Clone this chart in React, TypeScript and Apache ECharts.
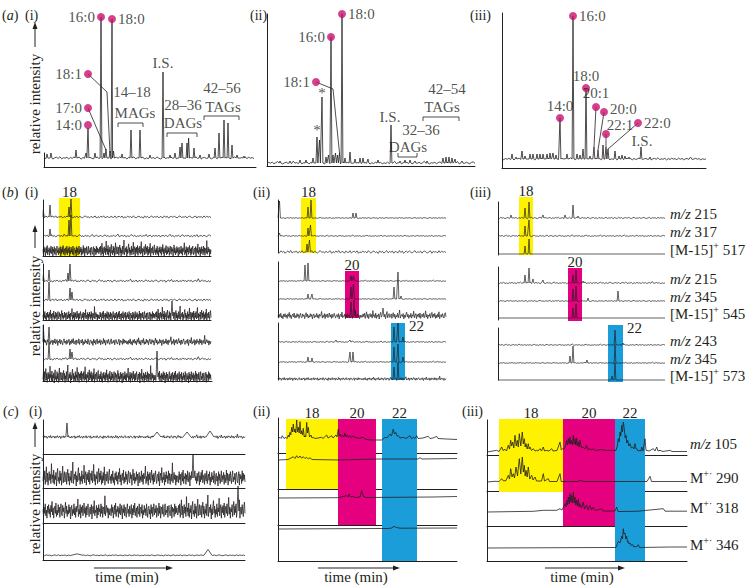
import React, { useEffect, useRef } from "react";
import * as echarts from "echarts";

const INK = "#231f20";
const FONT = '"Liberation Serif", "Times New Roman", serif';
const DOT = "#c8126e";
const YELLOW = "#fff200";
const PINK = "#e4007f";
const CYAN = "#1b9dd9";

type Peak = [number, number, number?];
type Pt = [number, number];

// ---------------- hand-read baseline noise (relative units) ----------------
const NOISE_1 = [3,-6,8,-2,5,-9,1,7,-4,10,-7,2,-1,6,-8,4,-3,9,-5,0,7,-10,3,-2,8,-6,5,-1,-8,4,9,-3,2,-7,6,-4,1,8,-9,3,-5,7,-2,10,-6,0,4,-8,6,-1,-4,9,-7,2,5,-3,8,-9,1,-5,7,-2,3,-6,9,-1,-8,4,6,-4,2,-10,8,-3,5,-7,1,9,-5,3,-2,7,-8,4,0,-6,10,-3,6,-9,2,5,-4,8,-1,-7,3,9,-5,1,-2,6,-8,4,7,-3,-6,2,8,-9,5,-1,3,-7,9,-4,6,-2,4,-5];
const NOISE_2 = [-4,7,-2,9,-8,3,14,-5,6,-9,2,8,-3,5,-7,18,-1,4,-6,10,-8,3,-2,7,-10,5,12,-4,1,-7,9,-3,6,-9,4,15,-6,2,8,-5,-1,7,-8,3,11,-4,6,-9,2,-3,9,-6,4,20,-7,1,5,-2,8,-10,3,-5,7,13,-3,6,-8,2,-4,9,-7,4,-1,16,-6,3,8,-9,5,-2,7,-5,10,-8,1,6,-3,9,-6,2,17,-4,5,-9,3,-1,8,-7,4,12,-5,6,-2,9,-8,3,-6,7,-3,14,-9,2,5,-4,8,-1,-7,6,11,-3];
const NOISE_3 = [2,-7,5,-3,9,-6,1,-9,6,-2,8,-4,3,-8,7,-1,12,-5,4,-9,2,6,-3,10,-7,1,-5,8,-2,5,-8,3,9,-4,-6,7,-1,4,-9,2,11,-3,6,-7,1,-4,8,-2,5,-10,3,7,-6,2,-3,9,-5,4,-8,6,-1,3,15,-7,2,-4,8,-9,5,-2,7,-6,1,10,-3,4,-8,6,-5,2,9,-1,-7,3,5,-4,8,-10,2,6,-3,13,-6,1,-2,7,-9,4,-5,8,-1,3,-7,9,-3,6,-8,2,5,-4,19,-6,1,7,-2,4,-9,3,-5,2];
const NOISE_SETS = [
  NOISE_1, NOISE_2, NOISE_3,
  [...NOISE_1, ...NOISE_3], [...NOISE_2, ...NOISE_1], [...NOISE_3, ...NOISE_2],
  [...NOISE_1, ...NOISE_2, ...NOISE_3], [...NOISE_3, ...NOISE_1, ...NOISE_2], [...NOISE_2, ...NOISE_3, ...NOISE_1],
];

// ---------------- (a) GC-MS total ion chromatograms: [rt, intensity] ----------------
const A1_PEAKS: Peak[] = [[3,4],[7,5],[32,8],[42,5],[44,30],[51,5],[57,141],[60,5],[62,9],[66,7],[68,139],[69.5,7],[78,4],[87,28],[96,28],[106,3],[119,86],[126,3],[131,5],[136,11],[138,15],[143,15],[144.6,20],[150,10],[156,3],[165,4],[171,10],[175,25],[180,38],[184,35],[188,13],[193,3],[200,2]];
const A1_DOTS: [string, number, number, string][] = [["16:0",57,141,"left"],["18:0",68,139,"right"],["18:1",44,84,"left"],["17:0",44,50,"left"],["14:0",44,33,"left"]];
const A1_NOTES: [string, number, number][] = [["14–18",88,66],["MAGs",91,45],["I.S.",119,95],["28–36",139,53],["DAGs",139,35],["42–56",178,70],["TAGs",179,51]];
const A1_LINKS: Pt[][] = [[[44,84],[63,66],[66,5]],[[44,50],[62,8]],[[74,31],[74,35],[99,35],[99,31]],[[123,21],[123,25],[153,25],[153,21]],[[160,38],[160,42],[195,42],[195,38]]];

const A2_PEAKS: Peak[] = [[13,2],[23,2],[33,3],[39,3],[46,5],[50,26],[52.5,23],[55,66],[59,6],[61.5,8],[64,126],[66,8],[68.5,10],[70.5,8],[72.5,10],[75,149],[78,5],[83,11],[88,4],[93,5],[96,5],[101,4],[111,3],[124,38],[133,2],[138,3],[143,3],[148,2],[160,2],[176,5],[179,6],[182,6],[185,5],[188,4],[195,2]];
const A2_DOTS: [string, number, number, string][] = [["16:0",64,126,"left"],["18:0",75,149,"right"],["18:1",49,81,"left"]];
const A2_NOTES: [string, number, number][] = [["*",50,33],["*",55,70],["I.S.",123,46],["32–36",154,33],["DAGs",141,16],["42–54",180,74],["TAGs",175,56]];
const A2_LINKS: Pt[][] = [[[49,81],[66,74],[72.5,10]],[[131,10],[131,6],[150,6],[150,10]],[[156,42],[156,46],[192,46],[192,42]]];

const A3_PEAKS: Peak[] = [[10,5],[14,2],[20,8],[23,3],[28,5],[31,5],[35,5],[38,5],[41,5],[45,5],[48,6],[51,6],[54,4],[58,41],[65,5],[71,143],[75,5],[78,4],[81,10],[84,71],[88,3],[92,12],[96,9],[101,14],[104,12],[106,10],[113,8],[117,3],[120,4],[123,3],[127,2],[139,12],[148,2]];
const A3_DOTS: [string, number, number, string][] = [["14:0",58,41,"top"],["16:0",71,143,"right"],["18:0",84,71,"top"],["20:1",94,52,"topup"],["20:0",102,47,"rightup"],["22:1",104,25,"topright"],["22:0",136,36,"right"]];
const A3_NOTES: [string, number, number][] = [["I.S.",140,18]];
const A3_LINKS: Pt[][] = [[[94,52],[92,12]],[[102,47],[96,9]],[[104,25],[104,12]],[[136,36],[106,10]]];

// ---------------- (b) selected ion chromatograms: peaks [rt, intensity] ----------------
const B1_PEAKS: Peak[][] = [
  [[0.3,7],[7,12],[26,10],[28,18]],
  [[7,7],[26,16],[28,21]],
  [],
  [[0.3,6],[6,11],[25,8],[27,17]],
  [[6,18],[27,12],[29,8]],
  [[129,15]],
  [[0.3,17],[6,15]],
  [[6,17],[27,10],[29,7]],
  [[114,26]],
];
const B2_PEAKS: Peak[][] = [
  [[1.5,17],[30,11],[33,18],[75,5],[78,5]],
  [[1.5,3],[30,8],[32.5,11]],
  [[29,8],[31.5,12]],
  [[27,16],[30,18],[73,5],[75.5,5]],
  [[30,5],[34,5],[73,12],[75.5,15],[116,12],[120,27],[123,3]],
  [[73,14],[76,16],[105,8]],
  [[58,2],[72,2],[116,15],[120,19],[125,5]],
  [[30,5],[34,4],[72,10],[75,10],[116,15],[120,18],[125,5]],
  [[116,12],[120,17]],
];
const B3_PEAKS: Peak[][] = [
  [[13,3],[27,10],[31,16],[45,3],[67,3],[75,13],[80,2]],
  [[27,10],[31,16]],
  [[27,8],[31,15]],
  [[27,8],[31,15],[35,4],[45,3],[75,8],[78,13],[85,2]],
  [[75,12],[78,15],[90,3],[120,10]],
  [[75,10],[78,14]],
  [[117,15],[125,2]],
  [[72,7],[75,17],[89,3],[117,18]],
  [[114,4],[117,17]],
];
const B3_CHANNELS = ["{it|m/z} 215","{it|m/z} 317","[M-15]{sup|+} 517","{it|m/z} 215","{it|m/z} 345","[M-15]{sup|+} 545","{it|m/z} 243","{it|m/z} 345","[M-15]{sup|+} 573"];
const B1_WINDOWS: [number, number, string][] = [[16,37,"18"]];
const B2_WINDOWS: [number, number, string][] = [[23,38,"18"],[67,81,"20"],[113,127,"22"]];
const B3_WINDOWS: [number, number, string][] = [[21,35,"18"],[70,84,"20"],[110,125,"22"]];

// ---------------- (c) chromatograms ----------------
const C1_PEAKS: Peak[][] = [
  [[24,14],[114,5,4],[144,5,4],[167,6,4]],
  [[150,24]],
  [[195,25]],
  [[34,1.5,6],[165,6,4]],
];
const C2_TRACES: Pt[][] = [
  [[0,1],[2,2.7],[3.2,1.5],[4.3,4.3],[6,1.5],[8,2.7],[9,1.5],[10.3,5],[11.2,3],[12,7.7],[12.8,5],[13.7,12.7],[14.5,8],[15.3,16],[16.2,8],[17,11],[17.8,7],[18.7,20],[19.5,8],[20.3,12.7],[21.2,7],[22,18.3],[22.9,6],[23.7,9.3],[24.5,5],[25.3,11.7],[26.2,3],[27,4.3],[27.8,3],[28.7,17.7],[29.5,7],[30.3,12.7],[31.5,3],[33,5],[34,2],[35.3,2.7],[37,1.5],[40,2],[43.7,2.7],[45,1.5],[48.7,5],[50,2],[53.7,4.3],[55,2],[58,5],[59,3],[60.3,11],[61.2,4],[62,6],[63.3,3],[64.7,5],[65.8,3],[67,6.7],[68.2,3],[69.3,5],[70.6,2.5],[72,4.3],[73.5,2.5],[75.3,4.3],[77,2],[78.7,2.7],[80,1.5],[85.3,2.7],[87,1],[92,0],[103.7,0],[107,2.7],[109,2],[112,6],[113.5,4],[115.3,11],[116.5,6],[117.7,7.7],[119,4],[120.3,4.3],[122,2],[125.3,2.7],[128,1.5],[132,4.3],[133.5,1.5],[135.3,2.7],[137,1.5],[138.7,4.3],[140,1.5],[145,2],[150.3,3.7],[152,1.5],[155,2],[158.7,3.7],[160,1.5],[168.7,1],[179,0.5]],
  [[0,0],[10,0.5],[13,2],[15.3,3.3],[17,1.5],[18.7,4.3],[20.3,2],[22,4],[23.7,1.8],[25.3,3.3],[27,1.5],[28.7,2.7],[30.3,1],[32,2.3],[34,0.5],[60,0],[100,1],[140,1],[142,2.3],[144,1],[179,1.5]],
  [[0,0],[60,0.3],[68.7,2.3],[70,1],[71,4],[72.5,1],[75.3,1.7],[77,0.5],[82,1],[83.7,7.3],[85.3,1.7],[88,0.5],[155,1],[179,1.5]],
  [[0,0],[100,0.5],[110,0.5],[113.7,1],[116,2.7],[118.7,1.5],[122,0.8],[179,1]],
];
const C3_TRACES: Pt[][] = [
  [[0,0],[9.7,1.7],[12,0.5],[14.7,5],[16,1.5],[18,2.7],[19.5,1],[21.3,6.7],[22.5,3],[23.7,11.7],[24.7,6],[25.7,10],[26.8,4],[28,16.7],[29.2,6],[30.3,11.7],[31.3,5],[32.3,18.3],[33.8,6],[35.3,20],[36.3,8],[37.3,13.3],[38.2,5],[39,8.3],[40.2,3],[41.3,8.3],[42.2,3],[43,5],[44.5,1.5],[46.3,3.3],[48,1],[49.7,1.7],[51,1],[53,3.3],[54.5,1],[56.3,5],[57.5,1],[59,1.7],[62,1],[64.7,3.3],[66,1],[70,1.5],[73,10],[74.3,2],[75.7,3.3],[77,3],[78.5,6],[79.7,11.7],[80.5,7],[81.3,13.3],[82.2,8],[83,15],[83.8,8],[84.7,11.7],[85.5,7],[86.3,16.7],[87.2,8],[88,13.3],[88.8,7],[89.7,14],[90.5,6],[91.3,10],[92.2,5],[93,11.7],[94.5,4],[96.3,5],[98,3],[99.7,6.7],[101,2],[103,3.3],[105,2],[106.3,3.3],[108,1.5],[114.7,2.3],[120,1.5],[129,1.7],[130.3,6],[131.3,13.3],[132.2,10],[133,20],[133.8,16],[134.7,26.7],[135.5,20],[136.3,30],[137.3,23.3],[138.2,14],[139,16.7],[139.8,9],[140.7,11.7],[141.8,6],[143,8.3],[144.3,4],[145.7,5],[146.8,3],[148,8.3],[149,3],[149.7,3.3],[151,1],[153,1.7],[154,1],[154.7,5],[156,1],[158,13.3],[159,1.7],[162,1],[166.3,3.3],[168,1],[169.7,5],[171,1],[173,1.7],[176,0.5],[183,1.7],[185,0.5],[200,0.5]],
  [[0,0],[8,0.7],[12,0.5],[14.7,3.3],[16.5,1],[19,1.5],[21.3,6.7],[22.5,3],[23.7,13.3],[25,5],[26.3,8.3],[27.5,4],[29,15],[30.5,6],[32.3,23.3],[33.8,8],[35.3,25],[36.3,10],[37.3,16.7],[38.2,6],[39,11.7],[40.2,5],[41.3,15],[42.8,3],[44.7,6.7],[46,2],[48,5],[49.5,1],[52,1],[54.5,1],[56.3,8.3],[57.5,1],[61.3,3.3],[62.5,0.5],[70,0.5],[73,8.3],[74.2,0.5],[90,0.5],[94.7,1.7],[96,0.5],[160,0.5],[163,5.7],[164.5,0.5],[200,0.5]],
  [[0,0],[46.3,0.7],[56.3,1.7],[69.7,1.7],[73,3.3],[75,2],[78,8.3],[79,5],[79.7,11.7],[80.5,7],[81.3,15],[82.2,8],[83,18.3],[83.8,10],[84.7,16.7],[85.5,9],[86.3,20],[87.2,9],[88,15],[88.8,7],[89.7,11.7],[90.5,6],[91.3,13.3],[92.2,5],[93,8.3],[94.5,4],[96.3,10],[97.5,3],[99.7,6.7],[101,2],[103,6.7],[104.5,2],[106.3,5],[108,1.5],[114.7,3.3],[116,1],[128,1],[129.7,5],[131,0.5],[149.7,0.7],[176.3,3.3],[178,0.8],[200,0.8]],
  [[0,0],[120,0.5],[129,0.5],[131.3,6.7],[133,5],[134.7,11.7],[135.5,9],[136.3,19.3],[137,14],[138,15],[138.8,9],[139.7,11.7],[140.5,6],[141.3,6.7],[142,4],[143,5],[144,2.5],[145.7,3.3],[146.8,1],[148,1.7],[149.5,1],[151.3,3.3],[152.5,0.5],[183,1],[200,1]],
];
const C3_CHANNELS = ["{it|m/z} 105","M{sup|+·} 290","M{sup|+·} 318","M{sup|+·} 346"];
const C2_WINDOWS: [number, number, string][] = [[8,60,"18"],[60,98,"20"],[104,139,"22"]];
const C3_WINDOWS: [number, number, string][] = [[12,76,"18"],[76,128,"20"],[128,158,"22"]];

function buildPeaks(width: number, peaks: Peak[], noise?: number[], amp = 0): Pt[] {
  const half = (p: Peak) => (p[2] ?? 0.9);
  const pts: Pt[] = [];
  if (noise && amp > 0) {
    const n = noise.length;
    for (let i = 0; i < n; i++) {
      const x = (i * width) / (n - 1);
      if (peaks.some((p) => Math.abs(x - p[0]) <= half(p))) continue;
      pts.push([x, noise[i] * amp]);
    }
  } else {
    pts.push([0, 0], [width, 0]);
  }
  for (const p of peaks) {
    const w = half(p);
    pts.push([Math.max(0, p[0] - w), 0], [p[0], p[1]], [p[0] + w, 0]);
  }
  pts.sort((a, b) => a[0] - b[0]);
  return pts;
}

const RICH: any = {
  it: { fontStyle: "italic", fontSize: 15, fontFamily: FONT, fill: INK },
  il: { fontStyle: "italic", fontSize: 14, fontFamily: FONT, fill: INK },
  sup: { fontSize: 10, fontFamily: FONT, fill: INK, verticalAlign: "top", lineHeight: 10 },
};

function buildOption() {
  const grid: any[] = [], xAxis: any[] = [], yAxis: any[] = [], series: any[] = [], graphic: any[] = [];
  const axLine = (show: boolean) => ({ show, onZero: false, lineStyle: { color: INK, width: 1 } });
  const addGrid = (left: number, top: number, width: number, height: number, xr: number[], yr: number[], showL = false, showB = false) => {
    const i = grid.length;
    grid.push({ left, top, width, height, containLabel: false });
    xAxis.push({ type: "value", gridIndex: i, min: xr[0], max: xr[1], axisLine: axLine(showB), axisTick: { show: false }, axisLabel: { show: false }, splitLine: { show: false } });
    yAxis.push({ type: "value", gridIndex: i, min: yr[0], max: yr[1], axisLine: axLine(showL), axisTick: { show: false }, axisLabel: { show: false }, splitLine: { show: false } });
    return i;
  };
  const frame = (l: number, t: number, r: number, b: number, showL: boolean, showB: boolean) => addGrid(l, t, r - l, b - t, [0, 1], [0, 1], showL, showB);
  const trace = (left: number, width: number, baseline: number, data: Pt[], lw = 0.8) => {
    const g = addGrid(left, baseline - 150, width, 180, [0, width], [-30, 150]);
    series.push({ type: "line", xAxisIndex: g, yAxisIndex: g, data, symbol: "none", showSymbol: false, lineStyle: { color: INK, width: lw }, silent: true, clip: false, z: 3 });
    return g;
  };
  const link = (g: number, pts: Pt[]) => series.push({ type: "line", xAxisIndex: g, yAxisIndex: g, data: pts, symbol: "none", showSymbol: false, lineStyle: { color: INK, width: 0.8 }, silent: true, clip: false, z: 4 });
  const dots = (g: number, list: [string, number, number, string][]) => series.push({
    type: "scatter", xAxisIndex: g, yAxisIndex: g, symbol: "circle", symbolSize: 8, itemStyle: { color: DOT }, silent: true, clip: false, z: 6,
    data: list.map(([t, x, y, pos]) => {
      const isTop = pos === "top" || pos === "topright" || pos === "topup";
      const isRight = pos === "right" || pos === "rightup";
      const offset = pos === "topright" ? [14, 3] : pos === "topup" ? [0, -2] : pos === "rightup" ? [0, -3] : [0, 0];
      return { value: [x, y], label: { show: true, formatter: t, position: isTop ? "top" : isRight ? "right" : pos, distance: isTop ? 1 : 2, offset, color: INK, fontSize: 15, fontFamily: FONT } };
    }),
  });
  const notes = (g: number, list: [string, number, number][]) => series.push({
    type: "scatter", xAxisIndex: g, yAxisIndex: g, symbol: "circle", symbolSize: 1, itemStyle: { color: "rgba(0,0,0,0)" }, silent: true, clip: false, z: 5,
    data: list.map(([t, x, y]) => ({ value: [x, y], label: { show: true, formatter: t, position: "inside", color: INK, fontSize: 15, fontFamily: FONT } })),
  });
  const box = (left: number, width: number, top: number, bottom: number, w: [number, number, string], color: string, side: string) => {
    const g = addGrid(left, top, width, bottom - top, [0, width], [0, 1]);
    series.push({
      type: "custom", xAxisIndex: g, yAxisIndex: g, z: 1, silent: true, clip: false, encode: { x: [0, 1] },
      data: [[w[0], w[1]]],
      renderItem: (_p: any, api: any) => {
        const a = api.coord([api.value(0), 1]);
        const b = api.coord([api.value(1), 0]);
        const top_ = side === "top";
        return {
          type: "group",
          children: [
            { type: "rect", shape: { x: a[0], y: a[1], width: b[0] - a[0], height: b[1] - a[1] }, style: { fill: color } },
            { type: "text", x: top_ ? (a[0] + b[0]) / 2 : b[0] + 4, y: top_ ? a[1] + 1 : a[1] + 3,
              style: { text: w[2], fill: INK, fontSize: 15, fontFamily: FONT, align: top_ ? "center" : "left", verticalAlign: top_ ? "bottom" : "middle", textAlign: top_ ? "center" : "left", textVerticalAlign: top_ ? "bottom" : "middle" } },
          ],
        };
      },
    });
  };

  // ---- (a) ----
  frame(44, 153, 256, 167, true, true);
  frame(267, 14, 475, 166, true, true);
  frame(502, 13, 706, 168, true, true);
  const ga1 = trace(44, 210, 158, buildPeaks(210, A1_PEAKS, NOISE_1, 0.12));
  A1_LINKS.forEach((l) => link(ga1, l)); notes(ga1, A1_NOTES); dots(ga1, A1_DOTS);
  const ga2 = trace(267, 208, 163, buildPeaks(208, A2_PEAKS, NOISE_2, 0.1));
  A2_LINKS.forEach((l) => link(ga2, l)); notes(ga2, A2_NOTES); dots(ga2, A2_DOTS);
  const ga3 = trace(502, 204, 159, buildPeaks(204, A3_PEAKS, NOISE_3, 0.1));
  A3_LINKS.forEach((l) => link(ga3, l)); notes(ga3, A3_NOTES); dots(ga3, A3_DOTS);

  // ---- (b) ----
  box(43, 168, 198, 256, B1_WINDOWS[0], YELLOW, "top");
  box(278, 168, 198, 253, B2_WINDOWS[0], YELLOW, "top");
  box(278, 168, 271, 318, B2_WINDOWS[1], PINK, "top");
  box(278, 168, 323, 380, B2_WINDOWS[2], CYAN, "right");
  box(498, 167, 197, 255, B3_WINDOWS[0], YELLOW, "top");
  box(498, 167, 268, 321, B3_WINDOWS[1], PINK, "top");
  box(498, 167, 325, 382, B3_WINDOWS[2], CYAN, "right");
  frame(43, 200, 211, 256, true, true); frame(43, 264, 211, 320, true, true); frame(43, 325, 212, 381, true, true);
  frame(278, 200, 446, 253, true, false); frame(278, 262, 446, 317, true, false); frame(278, 323, 446, 380, true, false);
  frame(498, 202, 665, 255, true, false); frame(498, 267, 665, 320, true, false); frame(498, 328, 665, 380, true, false);
  const B1_BASE = [217, 236, 251, 281, 300, 316, 342, 359, 377];
  const B1_NZ = [[0, 0.12], [1, 0.1], [6, 0.55], [2, 0.12], [0, 0.12], [7, 0.5], [3, 0.35], [2, 0.12], [8, 0.6]];
  B1_BASE.forEach((b, i) => trace(43, 168, b, buildPeaks(168, B1_PEAKS[i], NOISE_SETS[B1_NZ[i][0]], B1_NZ[i][1]), 0.75));
  const B2_BASE = [218, 236, 252, 281, 299, 316, 342, 362, 379];
  const B2_NZ = [[0, 0.05], [1, 0.05], [0, 0.15], [2, 0.05], [0, 0.05], [5, 0.3], [1, 0.05], [2, 0.05], [3, 0.15]];
  B2_BASE.forEach((b, i) => trace(278, 168, b, buildPeaks(168, B2_PEAKS[i], NOISE_SETS[B2_NZ[i][0]], B2_NZ[i][1]), 0.7));
  const B3_BASE = [218, 236, 254, 283, 301, 318, 345, 363, 380];
  const B3_NZ = [[0, 0.08], [1, 0.06], [2, 0], [2, 0.08], [0, 0.06], [1, 0], [1, 0.05], [2, 0.05], [0, 0]];
  B3_BASE.forEach((b, i) => {
    trace(498, 167, b, buildPeaks(167, B3_PEAKS[i], NOISE_SETS[B3_NZ[i][0]], B3_NZ[i][1]), 0.7);
  });

  // ---- (c) ----
  box(278, 179, 419, 489, C2_WINDOWS[0], YELLOW, "top");
  box(278, 179, 419, 525, C2_WINDOWS[1], PINK, "top");
  box(278, 179, 419, 561, C2_WINDOWS[2], CYAN, "top");
  box(487, 200, 419, 492, C3_WINDOWS[0], YELLOW, "top");
  box(487, 200, 419, 526, C3_WINDOWS[1], PINK, "top");
  box(487, 200, 419, 561, C3_WINDOWS[2], CYAN, "top");
  frame(43, 420, 245, 560, true, false);
  [[420, 454], [454, 488], [488, 523], [523, 560]].forEach(([t, b]) => frame(43, t, 245, b, false, true));
  frame(278, 418, 457, 561, true, false);
  [[419, 453], [453, 489], [489, 525], [525, 561]].forEach(([t, b]) => frame(278, t, 457, b, false, true));
  frame(487, 420, 687, 561, true, false);
  [[420, 455], [455, 491], [491, 526], [526, 561]].forEach(([t, b]) => frame(487, t, 687, b, false, true));
  const C1_BASE = [437, 478, 511, 557];
  const C1_NZ = [[3, 0.15], [8, 0.8], [7, 0.8], [0, 0.06]];
  C1_BASE.forEach((b, i) => trace(43, 202, b, buildPeaks(202, C1_PEAKS[i], NOISE_SETS[C1_NZ[i][0]], C1_NZ[i][1]), 0.75));
  const C2_BASE = [440, 460, 498, 529];
  C2_BASE.forEach((b, i) => trace(278, 179, b, C2_TRACES[i], 0.8));
  const C3_BASE = [452, 482, 512, 548];
  C3_BASE.forEach((b, i) => trace(487, 200, b, C3_TRACES[i], 0.8));

  // ---- texts ----
  const T = (text: string, x: number, y: number, extra: any = {}) => ({
    type: "text", x, y, silent: true, z: 10,
    style: { text, fill: INK, fontSize: 15, fontFamily: FONT, align: "left", verticalAlign: "middle", textAlign: "left", textVerticalAlign: "middle", lineHeight: 20, rich: RICH, ...extra },
  });
  const upArrow = (x: number, tip: number, bottom: number) => [
    { type: "line", z: 10, shape: { x1: x, y1: bottom, x2: x, y2: tip + 5 }, style: { stroke: INK, lineWidth: 1 } },
    { type: "polygon", z: 10, shape: { points: [[x, tip], [x - 2.5, tip + 7], [x + 2.5, tip + 7]] }, style: { fill: INK } },
  ];
  const rightArrow = (y: number, x1: number, tip: number) => [
    { type: "line", z: 10, shape: { x1, y1: y, x2: tip - 5, y2: y }, style: { stroke: INK, lineWidth: 1 } },
    { type: "polygon", z: 10, shape: { points: [[tip, y], [tip - 7, y - 2.5], [tip - 7, y + 2.5]] }, style: { fill: INK } },
  ];
  const letters: [string, number, number][] = [
    ["({il|a})", 2, 15], ["(i)", 25, 15], ["(ii)", 250, 15], ["(iii)", 470, 15],
    ["({il|b})", 2, 192], ["(i)", 25, 192], ["(ii)", 253, 192], ["(iii)", 470, 192],
    ["({il|c})", 3, 411], ["(i)", 29, 411], ["(ii)", 253, 411], ["(iii)", 462, 411],
  ];
  letters.forEach(([t, x, y]) => graphic.push(T(t, x, y, { fontSize: 14 })));
  [[104, 22, 47], [306, 225, 248], [504, 422, 447]].forEach(([cy, tip, bot]) => {
    graphic.push({ ...T("relative intensity", 35, cy, { align: "center", textAlign: "center" }), rotation: Math.PI / 2 });
    graphic.push(...upArrow(35, tip, bot));
  });
  [[127, 94, 173], [356, 318, 400], [582, 545, 625]].forEach(([cx, x1, tip]) => {
    graphic.push(T("time (min)", cx, 577, { align: "center", textAlign: "center" }));
    graphic.push(...rightArrow(568, x1, tip));
  });
  B3_BASE.forEach((b, i) => graphic.push(T(B3_CHANNELS[i], 670, b - 4)));
  [444, 478, 508, 545].forEach((y, i) => graphic.push(T(C3_CHANNELS[i], 690, y)));

  return { animation: false, backgroundColor: "#ffffff", grid, xAxis, yAxis, series, graphic };
}

export default function App() {
  const ref = useRef<HTMLDivElement>(null);
  useEffect(() => {
    if (!ref.current) return;
    const chart = echarts.init(ref.current, undefined, { renderer: "svg" });
    chart.setOption(buildOption() as any);
    return () => chart.dispose();
  }, []);
  return <div ref={ref} style={{ position: "absolute", left: 0, top: 0, width: 746, height: 585, background: "#fff" }} />;
}
